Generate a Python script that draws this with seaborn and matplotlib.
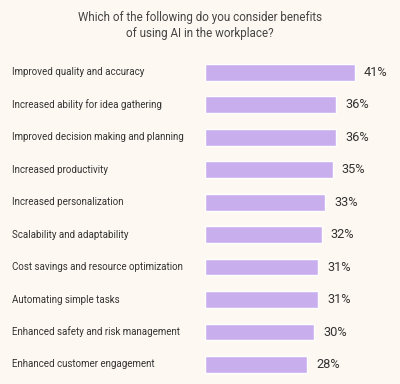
import pandas as pd
import seaborn as sns
import matplotlib.pyplot as plt
import matplotlib.transforms as mtransforms

benefits = [
    "Improved quality and accuracy",
    "Increased ability for idea gathering",
    "Improved decision making and planning",
    "Increased productivity",
    "Increased personalization",
    "Scalability and adaptability",
    "Cost savings and resource optimization",
    "Automating simple tasks",
    "Enhanced safety and risk management",
    "Enhanced customer engagement",
]
shares = [41, 36, 36, 35, 33, 32, 31, 31, 30, 28]

BG = "#FDF8F1"
BAR = "#C9AEEE"
TEXT = "#333333"


def create_chart():
    df = pd.DataFrame({"benefit": benefits, "share": shares})

    sns.set_theme(style="white")
    plt.rcParams["font.family"] = ["Roboto", "DejaVu Sans"]

    fig = plt.figure(figsize=(4, 3.84), dpi=100, facecolor=BG)
    ax = fig.add_axes([0.5125, 0.0085, 0.456, 0.846])
    ax.set_facecolor(BG)

    sns.barplot(data=df, x="share", y="benefit", orient="h", color=BAR,
                width=0.52, saturation=1, ax=ax)

    ax.set_xlim(0, 50)
    ax.set_ylim(9.5, -0.5)
    ax.set_xticks([])
    ax.set_yticks([])
    ax.set_xlabel("")
    ax.set_ylabel("")
    sns.despine(ax=ax, left=True, bottom=True)

    # category labels left-aligned at the figure's left edge
    trans = mtransforms.blended_transform_factory(fig.transFigure, ax.transData)
    for i, (name, val) in enumerate(zip(benefits, shares)):
        ax.text(0.03, i, name, transform=trans, ha="left", va="center",
                fontsize=7.0, color=TEXT)
        ax.annotate(f"{val}%", xy=(val, i), xytext=(6.5, 0),
                    textcoords="offset points", ha="left", va="center",
                    fontsize=9.2, color=TEXT)

    fig.text(0.5, 0.934, "Which of the following do you consider benefits\nof using AI in the workplace?",
             ha="center", va="center", fontsize=8.4, color="#444444", linespacing=1.35)

    fig.savefig("out.png", dpi=100, facecolor=BG)


if __name__ == "__main__":
    create_chart()
